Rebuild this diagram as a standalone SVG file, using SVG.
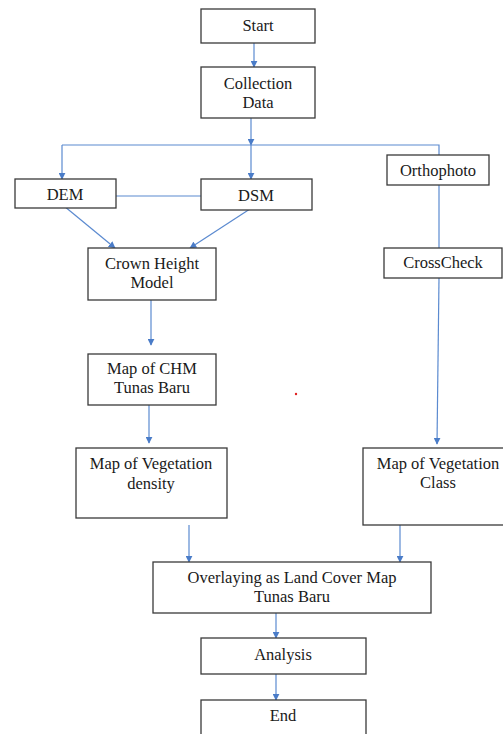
<svg xmlns="http://www.w3.org/2000/svg" width="503" height="734" viewBox="0 0 503 734">
<style>
.box{fill:#fff;stroke:#3a3a3a;stroke-width:1.3}
.t{font-family:"Liberation Serif","Times New Roman",serif;font-size:16.5px;fill:#1a1a1a;text-anchor:middle}
.c{fill:none;stroke:#5b8ad0;stroke-width:1.2}
</style>
<defs>
<marker id="ah" viewBox="0 0 10 10" refX="9" refY="5" markerWidth="7" markerHeight="7" markerUnits="userSpaceOnUse" orient="auto">
<path d="M0,0 L10,5 L0,10 z" fill="#4a7cc8"/>
</marker>
</defs>
<rect width="503" height="734" fill="#fff"/>
<g id="connectors">
<line class="c" x1="254" y1="43" x2="254" y2="67" marker-end="url(#ah)"/>
<line class="c" x1="251" y1="118" x2="251" y2="145" marker-end="url(#ah)"/>
<polyline class="c" points="62,145 439,145 439,155"/>
<line class="c" x1="62" y1="145" x2="62" y2="179" marker-end="url(#ah)"/>
<line class="c" x1="251" y1="145" x2="251" y2="179" marker-end="url(#ah)"/>
<line class="c" x1="116" y1="196" x2="201" y2="196"/>
<line class="c" x1="64" y1="206" x2="115" y2="248" marker-end="url(#ah)"/>
<line class="c" x1="253" y1="207" x2="190" y2="248" marker-end="url(#ah)"/>
<line class="c" x1="439" y1="185" x2="439" y2="248"/>
<line class="c" x1="439" y1="278" x2="437" y2="444" marker-end="url(#ah)"/>
<line class="c" x1="151" y1="300" x2="151" y2="345" marker-end="url(#ah)"/>
<line class="c" x1="149" y1="405" x2="149" y2="443" marker-end="url(#ah)"/>
<line class="c" x1="189" y1="525" x2="189" y2="562" marker-end="url(#ah)"/>
<line class="c" x1="400" y1="525" x2="400" y2="562" marker-end="url(#ah)"/>
<line class="c" x1="276" y1="613" x2="276" y2="638" marker-end="url(#ah)"/>
<line class="c" x1="276" y1="674" x2="276" y2="700" marker-end="url(#ah)"/>
</g>
<g id="start"><rect class="box" x="201" y="9" width="114" height="34"/><text class="t" x="258" y="31">Start</text></g>
<g id="collection"><rect class="box" x="201" y="67" width="114" height="51"/><text class="t" x="258" y="89">Collection</text><text class="t" x="258" y="108">Data</text></g>
<g id="dem"><rect class="box" x="15" y="179" width="101" height="29"/><text class="t" x="65" y="200">DEM</text></g>
<g id="dsm"><rect class="box" x="201" y="179" width="111" height="31"/><text class="t" x="256" y="201">DSM</text></g>
<g id="orthophoto"><rect class="box" x="387" y="155" width="102" height="30"/><text class="t" x="438" y="176">Orthophoto</text></g>
<g id="chm"><rect class="box" x="88" y="248" width="128" height="52"/><text class="t" x="152" y="269">Crown Height</text><text class="t" x="152" y="288">Model</text></g>
<g id="crosscheck"><rect class="box" x="384" y="248" width="118" height="30"/><text class="t" x="443" y="268">CrossCheck</text></g>
<g id="mapchm"><rect class="box" x="88" y="354" width="128" height="51"/><text class="t" x="152" y="374">Map of CHM</text><text class="t" x="152" y="393">Tunas Baru</text></g>
<g id="density"><rect class="box" x="76" y="448" width="151" height="70"/><text class="t" x="151" y="469">Map of Vegetation</text><text class="t" x="151" y="489">density</text></g>
<g id="class"><rect class="box" x="363" y="448" width="145" height="77"/><text class="t" x="438" y="469">Map of Vegetation</text><text class="t" x="438" y="488">Class</text></g>
<g id="overlay"><rect class="box" x="153" y="562" width="278" height="51"/><text class="t" x="292" y="583">Overlaying as Land Cover Map</text><text class="t" x="292" y="602">Tunas Baru</text></g>
<g id="analysis"><rect class="box" x="201" y="638" width="165" height="36"/><text class="t" x="283" y="660">Analysis</text></g>
<g id="end"><rect class="box" x="201" y="700" width="165" height="40"/><text class="t" x="283" y="721">End</text></g>
<circle cx="296" cy="394" r="1.2" fill="#e02020"/>
</svg>
